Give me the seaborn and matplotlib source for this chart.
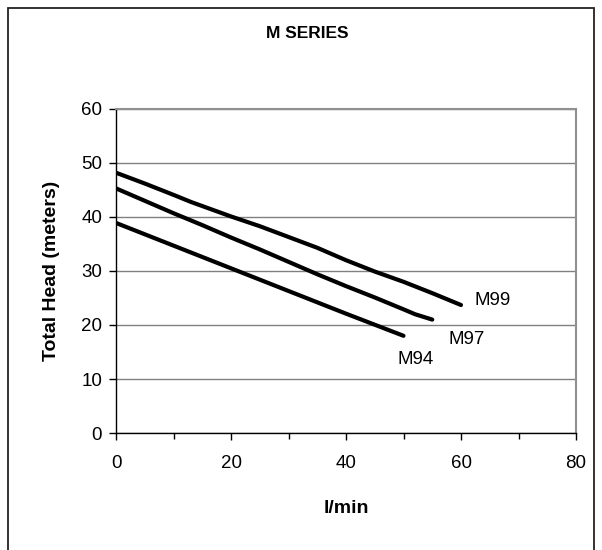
import matplotlib
matplotlib.use("Agg")
import matplotlib.pyplot as plt
import seaborn as sns
import pandas as pd
from matplotlib.patches import Rectangle
from matplotlib.ticker import MultipleLocator

# Data
m99_x = [0, 5, 10, 13, 20, 25, 30, 35, 40, 45, 50, 55, 60]
m99_y = [48.2, 46.2, 44.1, 42.8, 40.1, 38.3, 36.3, 34.3, 32.0, 29.9, 28.0, 25.9, 23.7]
m97_x = [0, 5, 10, 15, 20, 25, 30, 35, 40, 45, 50, 52, 55]
m97_y = [45.3, 43.0, 40.7, 38.5, 36.2, 34.0, 31.7, 29.4, 27.2, 25.1, 22.9, 22.0, 21.0]
m94_x = [0, 10, 20, 30, 40, 50]
m94_y = [38.9, 34.7, 30.5, 26.3, 22.1, 18.0]
series_names = ["M99", "M97", "M94"]
label_pos_x = [62.3, 57.8, 49.0]
label_pos_y = [24.5, 17.3, 13.6]

title = "M SERIES"
xlabel = "l/min"
ylabel = "Total Head (meters)"

df = pd.concat([
    pd.DataFrame({"flow": m99_x, "head": m99_y, "model": "M99"}),
    pd.DataFrame({"flow": m97_x, "head": m97_y, "model": "M97"}),
    pd.DataFrame({"flow": m94_x, "head": m94_y, "model": "M94"}),
])

sns.set_style("white")
plt.rcParams["font.family"] = ["Liberation Sans", "DejaVu Sans"]
plt.rcParams["text.color"] = "black"
plt.rcParams["axes.labelcolor"] = "black"
plt.rcParams["xtick.color"] = "black"
plt.rcParams["ytick.color"] = "black"

fig = plt.figure(figsize=(6.02, 5.5), dpi=100)
ax = fig.add_axes([116/602, 1 - 433/550, (576 - 116)/602, (433 - 109)/550])

sns.lineplot(data=df, x="flow", y="head", hue="model", units="model", estimator=None,
             palette={"M99": "black", "M97": "black", "M94": "black"},
             linewidth=3.0, legend=False, ax=ax, sort=False)

ax.set_xlim(0, 80)
ax.set_ylim(0, 60)
ax.xaxis.set_major_locator(MultipleLocator(20))
ax.xaxis.set_minor_locator(MultipleLocator(10))
ax.yaxis.set_major_locator(MultipleLocator(10))
ax.grid(axis="y", color="#808080", linewidth=1.0)
ax.set_axisbelow(True)

for s in ["top", "right"]:
    ax.spines[s].set_color("#909090")
    ax.spines[s].set_linewidth(1.5)
for s in ["left", "bottom"]:
    ax.spines[s].set_color("black")
    ax.spines[s].set_linewidth(1.0)

ax.tick_params(axis="both", which="major", direction="out", length=5, width=1,
               color="black", labelsize=13.5, pad=6, bottom=True, left=True,
               labelcolor="black")
ax.tick_params(axis="x", which="minor", direction="out", length=4, width=1,
               color="black", bottom=True)
ax.tick_params(axis="x", pad=11)
ax.tick_params(axis="y", pad=5)

ax.set_xlabel(xlabel, fontsize=14, fontweight="bold", labelpad=20, color="black")
ax.set_ylabel(ylabel, fontsize=14, fontweight="bold", labelpad=10, color="black")
ax.yaxis.set_label_coords(-(116 - 60)/460, 0.5)

for name, lx, ly in zip(series_names, label_pos_x, label_pos_y):
    ax.text(lx, ly, name, fontsize=13.5, va="center", ha="left", color="black")

fig.text(307/602, 1 - 33/550, title, fontsize=12.5, fontweight="bold",
         ha="center", va="center", color="black")

frame = Rectangle((8/602, -0.05), (594 - 8)/602, 1.05 - 8/550,
                  transform=fig.transFigure, fill=False, edgecolor="#222222",
                  linewidth=1.3, clip_on=False)
fig.patches.append(frame)

fig.savefig("out.png", dpi=100)
